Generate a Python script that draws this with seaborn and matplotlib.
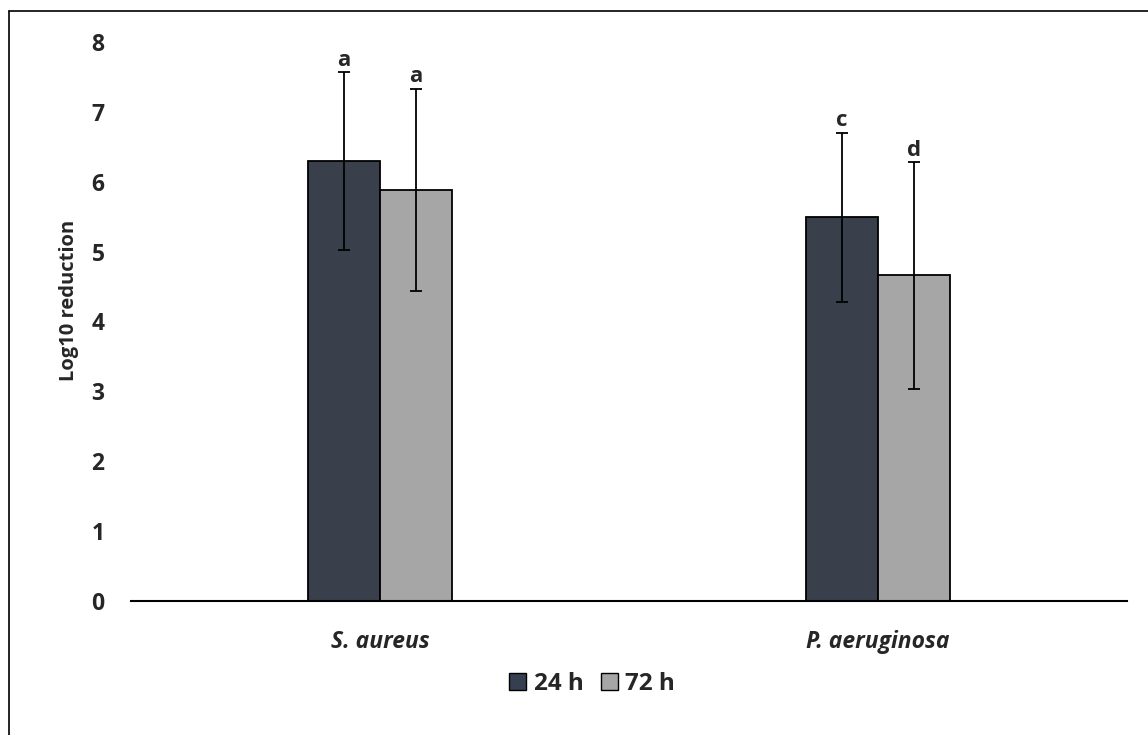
import numpy as np
import pandas as pd
import matplotlib
matplotlib.use("Agg")
import matplotlib.pyplot as plt
from matplotlib.patches import Patch
from matplotlib.lines import Line2D
import seaborn as sns

# data
species = ["S. aureus", "P. aeruginosa"]
times = ["24 h", "72 h"]
log_red_24h = [6.30, 5.49]
log_red_72h = [5.88, 4.66]
err_24h = [1.27, 1.21]
err_72h = [1.45, 1.62]
letters_24h = ["a", "c"]
letters_72h = ["a", "d"]

df = pd.DataFrame({
    "species": species * 2,
    "time": [times[0]] * 2 + [times[1]] * 2,
    "value": log_red_24h + log_red_72h,
})
errs = {times[0]: err_24h, times[1]: err_72h}
letters = {times[0]: letters_24h, times[1]: letters_72h}
colors = {"24 h": "#363f4f", "72 h": "#a6a6a6"}

sns.set_theme(style="white")
plt.rcParams["font.family"] = ["Open Sans", "DejaVu Sans"]

fig = plt.figure(figsize=(11.48, 7.35), dpi=100)
ax = fig.add_axes([131 / 1148, 1 - 601 / 735, 996 / 1148, 559 / 735])

sns.barplot(data=df, x="species", y="value", hue="time", hue_order=times,
            palette=colors, width=0.29, gap=0, edgecolor="black", linewidth=1.3,
            legend=False, ax=ax)

for t, cont in zip(times, ax.containers):
    for i, bar in enumerate(cont):
        xc = bar.get_x() + bar.get_width() / 2
        h = bar.get_height()
        ax.errorbar(xc, h, yerr=errs[t][i], fmt="none", ecolor="black",
                    elinewidth=1.3, capsize=4.5, capthick=1.3)
        ax.annotate(letters[t][i], (xc, h + errs[t][i]), xytext=(0, 1),
                    textcoords="offset points", ha="center", va="bottom",
                    fontsize=16, fontweight="bold")

ax.set_xlim(-0.5, 1.5)
ax.set_ylim(0, 8)
ax.set_yticks(range(0, 9))
ax.set_xlabel("")
ax.set_ylabel("Log10 reduction", fontsize=14.5, fontweight="bold")
ax.yaxis.set_label_coords((79 - 131) / 996, (601 - 300) / 559)
for s in ["top", "right", "left"]:
    ax.spines[s].set_visible(False)
ax.spines["bottom"].set_color("black")
ax.spines["bottom"].set_linewidth(1.5)
ax.tick_params(axis="y", length=0, pad=19, labelsize=16.5)
ax.tick_params(axis="x", length=0, pad=21, labelsize=16.5)
for lab in ax.get_yticklabels():
    lab.set_fontweight("bold")
for lab in ax.get_xticklabels():
    lab.set_fontweight("bold")
    lab.set_fontstyle("italic")

handles = [Patch(facecolor=colors[t], edgecolor="black", linewidth=1.0, label=t) for t in times]
fig.legend(handles=handles, loc="center", bbox_to_anchor=(592 / 1148, 51 / 735),
           ncol=2, frameon=False, prop={"size": 17.5, "weight": "bold"},
           handlelength=0.7, handleheight=0.7, handletextpad=0.3, columnspacing=0.7)

# frame line on left and top edge
fig.add_artist(Line2D([9 / 1148, 9 / 1148], [0, 1 - 11 / 735], color="black", linewidth=1.2))
fig.add_artist(Line2D([9 / 1148, 1], [1 - 11 / 735, 1 - 11 / 735], color="black", linewidth=1.2))

fig.savefig("out.png", dpi=100)
